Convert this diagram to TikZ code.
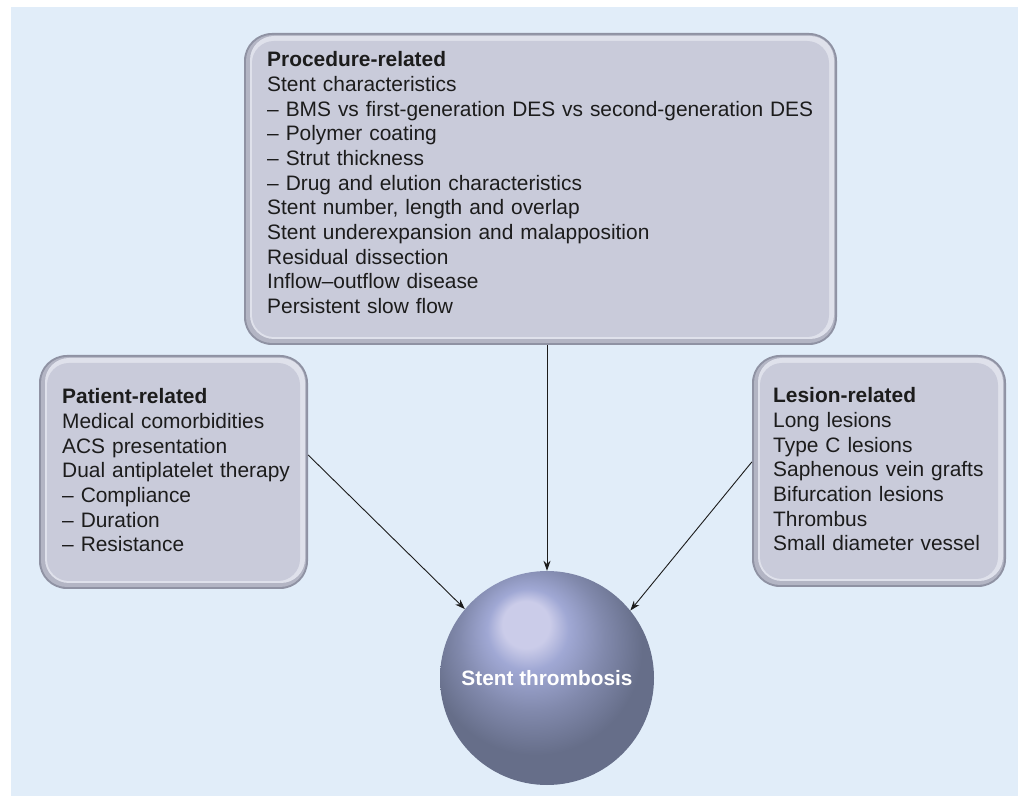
\documentclass[tikz,border=0pt]{standalone}
\usepackage{fontspec}
\setmainfont{Liberation Sans}
\usetikzlibrary{arrows.meta}
\definecolor{panel}{HTML}{E1EDF9}
\definecolor{bevA}{HTML}{8F92A3}
\definecolor{bevB}{HTML}{B3B5C4}
\definecolor{bevC}{HTML}{DFE1EB}
\definecolor{boxfill}{HTML}{C9CBDA}
\definecolor{txt}{HTML}{1C1C1C}
\definecolor{hl}{HTML}{CBCCE9}
\definecolor{sphB}{HTML}{A0A8D4}
\definecolor{sphC}{HTML}{8189AC}
\definecolor{sphD}{HTML}{666E89}
\pgfdeclareradialshading{stsphere}{\pgfpoint{-5.5bp}{14bp}}{%
  color(0bp)=(hl); color(5.5bp)=(hl); color(9.5bp)=(sphB); color(17bp)=(sphC);
  color(25bp)=(sphD); color(50bp)=(sphD)}
\begin{document}
\begin{tikzpicture}[x=1pt,y=1pt,
  box/.style={rectangle, rounded corners=28pt, fill=bevA, inner sep=0pt,
    path picture={
      \fill[bevB, rounded corners=26pt]
        ([shift={(2pt,2pt)}]path picture bounding box.south west) rectangle
        ([shift={(-2pt,-2pt)}]path picture bounding box.north east);
      \fill[bevC, rounded corners=24pt]
        ([shift={(6pt,6pt)}]path picture bounding box.south west) rectangle
        ([shift={(-3pt,-3pt)}]path picture bounding box.north east);
      \fill[boxfill, rounded corners=22pt]
        ([shift={(8pt,8pt)}]path picture bounding box.south west) rectangle
        ([shift={(-8pt,-8pt)}]path picture bounding box.north east);
    }},
  boxtext/.style={anchor=base west, inner sep=0pt, text width=#1, align=left,
    text=txt, font=\fontsize{20.9}{24.65}\selectfont},
  ball/.style={circle, minimum size=214pt, inner sep=0pt, shading=stsphere,
    text=white, font=\fontsize{20.8}{24}\selectfont\bfseries},
  arr/.style={draw=txt, line width=0.9pt, -{Stealth[length=10pt,width=7pt]}}
]
\useasboundingbox (0,0) rectangle (1018,796);
\fill[panel] (11,0) rectangle (1018,789);

\node[box, minimum width=593pt, minimum height=312pt] (proc) at (540.5,607) {};
\node[box, minimum width=269pt, minimum height=234pt] (pat) at (173.5,324) {};
\node[box, minimum width=254pt, minimum height=232pt] (les) at (879,325) {};

\node[boxtext=570pt] (proctext) at (267,729) {\textbf{Procedure-related}\\
Stent characteristics\\
– BMS vs first-generation DES vs second-generation DES\\
– Polymer coating\\
– Strut thickness\\
– Drug and elution characteristics\\
Stent number, length and overlap\\
Stent underexpansion and malapposition\\
Residual dissection\\
Inflow–outflow disease\\
Persistent slow flow};

\node[boxtext=245pt] (pattext) at (62,392) {\textbf{Patient-related}\\
Medical comorbidities\\
ACS presentation\\
Dual antiplatelet therapy\\
– Compliance\\
– Duration\\
– Resistance};

\node[boxtext=230pt] (lestext) at (773,393) {\textbf{Lesion-related}\\
Long lesions\\
Type C lesions\\
Saphenous vein grafts\\
Bifurcation lesions\\
Thrombus\\
Small diameter vessel};

\node[ball] (st) at (547,118) {Stent thrombosis};

\draw[arr] (st.north |- proc.south) -- (st.north);
\draw[arr] ([yshift=17pt]pat.east) -- (st.140);
\draw[arr] ([yshift=9pt]les.west) -- (st.39);
\end{tikzpicture}
\end{document}
